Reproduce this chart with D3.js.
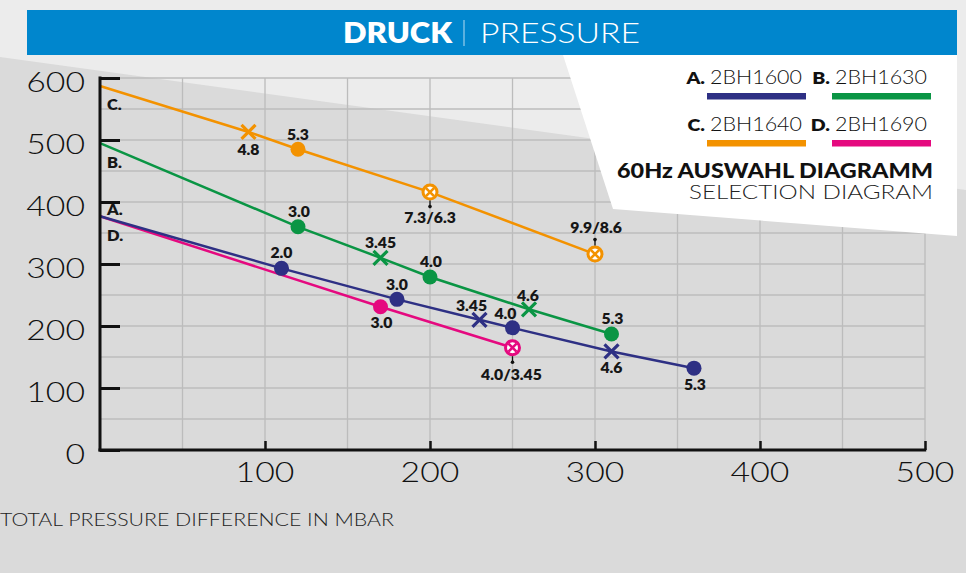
<!DOCTYPE html>
<html>
<head>
<meta charset="utf-8">
<script src="https://cdn.jsdelivr.net/npm/d3@7"></script>
<style>
  html,body{margin:0;padding:0;background:#dadada;}
  svg{display:block;}
</style>
</head>
<body>
<svg id="chart" width="966" height="573"></svg>
<script>
// ---------------- DATA ----------------
const seriesKeys   = ["A.", "B.", "C.", "D."];
const seriesModels = ["2BH1600", "2BH1630", "2BH1640", "2BH1690"];
const seriesColors = ["#2e3084", "#0a9544", "#f39200", "#e5097f"];

const xA = [0, 110, 180, 230, 250, 310, 360];
const yA = [377, 293, 243, 210, 197, 159, 132];
const markA  = ["", "dot", "dot", "x", "dot", "x", "dot"];
const labelA = ["", "2.0", "3.0", "3.45", "4.0", "4.6", "5.3"];

const xB = [0, 120, 170, 200, 260, 310];
const yB = [495, 360, 310, 279, 227, 187];
const markB  = ["", "dot", "x", "dot", "x", "dot"];
const labelB = ["", "3.0", "3.45", "4.0", "4.6", "5.3"];

const xC = [0, 90, 120, 200, 300];
const yC = [587, 513, 485, 416, 316];
const markC  = ["", "x", "dot", "ox", "ox"];
const labelC = ["", "4.8", "5.3", "7.3/6.3", "9.9/8.6"];

const xD = [0, 170, 250];
const yD = [377, 231, 165];
const markD  = ["", "dot", "ox"];
const labelD = ["", "3.0", "4.0/3.45"];

const xTicks = [0, 100, 200, 300, 400, 500];
const yTicks = [0, 100, 200, 300, 400, 500, 600];
const xTickLabels = ["", "100", "200", "300", "400", "500"];
const yTickLabels = ["0", "100", "200", "300", "400", "500", "600"];

const titleBold = "DRUCK";
const titleLight = "PRESSURE";
const subtitleBold = "60Hz AUSWAHL DIAGRAMM";
const subtitleLight = "SELECTION DIAGRAM";
const xAxisTitle = "TOTAL PRESSURE DIFFERENCE IN MBAR";

// ---------------- LAYOUT ----------------
const FONT = "Lato, 'Open Sans', 'DejaVu Sans', sans-serif";
const svg = d3.select("#chart");
const W = 966, H = 573;

const x = d3.scaleLinear().domain([0, 500]).range([100, 925]);
const y = d3.scaleLinear().domain([0, 600]).range([450, 78]);

// widen a text's glyphs (the original face is a wide geometric sans)
function widen(sel, factor, fixed) {
  sel.each(function () {
    const len = fixed || this.getComputedTextLength() * factor;
    d3.select(this).attr("textLength", len).attr("lengthAdjust", "spacingAndGlyphs");
  });
  return sel;
}

// backgrounds
svg.append("rect").attr("width", W).attr("height", H).attr("fill", "#dadada");
svg.append("polygon").attr("points", "0,0 966,0 966,190 0,57").attr("fill", "#ececec");

// grid
const grid = svg.append("g").attr("stroke", "#bcbcbc").attr("stroke-width", 1.3);
d3.range(50, 501, 50).forEach(v => {
  grid.append("line").attr("x1", x(v)).attr("x2", x(v)).attr("y1", y(0)).attr("y2", y(600));
});
d3.range(50, 601, 50).forEach(v => {
  grid.append("line").attr("x1", x(0)).attr("x2", x(500)).attr("y1", y(v)).attr("y2", y(v));
});

// white legend panel
svg.append("polygon").attr("points", "563,55 957,55 957,236 613,209").attr("fill", "#ffffff");

// blue title bar
svg.append("rect").attr("x", 27).attr("y", 10).attr("width", 930).attr("height", 45).attr("fill", "#0086cd");
widen(svg.append("text").attr("x", 343).attr("y", 43).attr("font-family", FONT).attr("font-weight", 800)
  .attr("font-size", 28).attr("fill", "#fff").text(titleBold), 1, 109);
svg.append("line").attr("x1", 464).attr("x2", 464).attr("y1", 20).attr("y2", 46)
  .attr("stroke", "#ffffff").attr("stroke-opacity", 0.6).attr("stroke-width", 1.2);
widen(svg.append("text").attr("x", 480).attr("y", 43).attr("font-family", FONT).attr("font-weight", 300)
  .attr("font-size", 28).attr("fill", "#fff").text(titleLight), 1, 160);

// legend
const legendPos = [[705, 84], [830, 84], [705, 131], [830, 131]];
seriesKeys.forEach((k, i) => {
  const [lx, ly] = legendPos[i];
  widen(svg.append("text").attr("x", lx).attr("y", ly).attr("text-anchor", "end")
    .attr("font-family", FONT).attr("font-weight", 800).attr("font-size", 17).attr("fill", "#111").text(k), 1.15);
  widen(svg.append("text").attr("x", lx + 5).attr("y", ly)
    .attr("font-family", FONT).attr("font-weight", 300).attr("font-size", 19).attr("fill", "#111")
    .text(seriesModels[i]), 1, 92);
  svg.append("rect").attr("x", lx + 2).attr("y", ly + 9).attr("width", 99).attr("height", 6.5).attr("fill", seriesColors[i]);
});
widen(svg.append("text").attr("x", 933).attr("y", 178).attr("text-anchor", "end")
  .attr("font-family", FONT).attr("font-weight", 900).attr("font-size", 20).attr("fill", "#111")
  .text(subtitleBold), 1, 316);
widen(svg.append("text").attr("x", 933).attr("y", 199).attr("text-anchor", "end")
  .attr("font-family", FONT).attr("font-weight", 300).attr("font-size", 19).attr("fill", "#222")
  .text(subtitleLight), 1, 244);

// series
const series = [
  {xs: xA, ys: yA, marks: markA, labels: labelA, color: seriesColors[0]},
  {xs: xB, ys: yB, marks: markB, labels: labelB, color: seriesColors[1]},
  {xs: xC, ys: yC, marks: markC, labels: labelC, color: seriesColors[2]},
  {xs: xD, ys: yD, marks: markD, labels: labelD, color: seriesColors[3]},
];
// label placement: [dx, dy(baseline)] per series/point; pointer flag
const place = {
  "0-1": [0, -10], "0-2": [0, -9], "0-3": [-8, -9], "0-4": [-7, -9], "0-5": [0, 22], "0-6": [1, 22],
  "1-1": [1, -10], "1-2": [0, -10], "1-3": [1, -10], "1-4": [-1, -8], "1-5": [1, -10],
  "2-1": [0, 23], "2-2": [0, -9], "2-3": [0, 31, "down"], "2-4": [1, -21, "up"],
  "3-1": [1, 21], "3-2": [-1, 32, "down"],
};
const lineGen = d3.line().x(d => x(d[0])).y(d => y(d[1]));
const drawOrder = [3, 0, 1, 2];
drawOrder.forEach(si => {
  const s = series[si];
  const pts = s.xs.map((v, i) => [v, s.ys[i]]);
  svg.append("path").datum(pts).attr("d", lineGen).attr("fill", "none")
    .attr("stroke", s.color).attr("stroke-width", 2.5);
});
drawOrder.forEach(si => {
  const s = series[si];
  const g = svg.append("g");
  s.xs.forEach((v, i) => {
    const px = x(v), py = y(s.ys[i]);
    const m = s.marks[i];
    if (m === "dot") {
      g.append("circle").attr("cx", px).attr("cy", py).attr("r", 7.5).attr("fill", s.color);
    } else if (m === "x") {
      const r = 7;
      g.append("path").attr("d", `M${px-r},${py-r}L${px+r},${py+r}M${px-r},${py+r}L${px+r},${py-r}`)
        .attr("stroke", s.color).attr("stroke-width", 3.2).attr("fill", "none");
    } else if (m === "ox") {
      g.append("circle").attr("cx", px).attr("cy", py).attr("r", 7).attr("fill", "#fff")
        .attr("stroke", s.color).attr("stroke-width", 3);
      const r = 4;
      g.append("path").attr("d", `M${px-r},${py-r}L${px+r},${py+r}M${px-r},${py+r}L${px+r},${py-r}`)
        .attr("stroke", s.color).attr("stroke-width", 2.6).attr("fill", "none");
    }
    if (s.labels[i]) {
      const p = place[si + "-" + i] || [0, -10];
      if (p[2] === "down") {
        g.append("line").attr("x1", px).attr("x2", px).attr("y1", py + 8.5).attr("y2", py + 14.5)
          .attr("stroke", "#111").attr("stroke-width", 1.3);
        g.append("circle").attr("cx", px).attr("cy", py + 14.5).attr("r", 1.8).attr("fill", "#111");
      } else if (p[2] === "up") {
        g.append("line").attr("x1", px).attr("x2", px).attr("y1", py - 8.5).attr("y2", py - 14.5)
          .attr("stroke", "#111").attr("stroke-width", 1.3);
        g.append("circle").attr("cx", px).attr("cy", py - 14.5).attr("r", 1.8).attr("fill", "#111");
      }
      widen(g.append("text").attr("x", px + p[0]).attr("y", py + p[1]).attr("text-anchor", "middle")
        .attr("font-family", FONT).attr("font-weight", 800).attr("font-size", 15).attr("fill", "#161616")
        .text(s.labels[i]), 1.05);
    }
  });
});

// series letters on axis
const letterY = [215, 168, 110, 241];
seriesKeys.forEach((k, i) => {
  widen(svg.append("text").attr("x", 107).attr("y", letterY[i]).attr("font-family", FONT)
    .attr("font-weight", 800).attr("font-size", 15).attr("fill", "#161616").text(k), 1.1);
});

// axes
const yAxis = d3.axisRight(y).tickValues(yTicks).tickSize(20).tickFormat("");
const gy = svg.append("g").attr("transform", `translate(${x(0)},0)`).call(yAxis);
gy.select(".domain").remove();
gy.selectAll(".tick line").attr("stroke", "#111").attr("stroke-width", 3);
svg.append("line").attr("x1", x(0)).attr("x2", x(0)).attr("y1", y(600) - 1.5).attr("y2", y(0) + 1.5)
  .attr("stroke", "#111").attr("stroke-width", 3);

const xAxis = d3.axisTop(x).tickValues(xTicks.slice(1)).tickSize(9).tickFormat("");
const gx = svg.append("g").attr("transform", `translate(0,${y(0)})`).call(xAxis);
gx.select(".domain").remove();
gx.selectAll(".tick line").attr("stroke", "#111").attr("stroke-width", 2.5);
svg.append("line").attr("x1", x(0) - 1.5).attr("x2", x(500) + 1.2).attr("y1", y(0)).attr("y2", y(0))
  .attr("stroke", "#111").attr("stroke-width", 3);

// tick labels
yTicks.forEach((v, i) => {
  widen(svg.append("text").attr("x", 85).attr("y", y(v) + 13.5).attr("text-anchor", "end")
    .attr("font-family", FONT).attr("font-weight", 300).attr("font-size", 27).attr("fill", "#111")
    .text(yTickLabels[i]), 1.25);
});
xTicks.forEach((v, i) => {
  if (!xTickLabels[i]) return;
  widen(svg.append("text").attr("x", x(v)).attr("y", 482).attr("text-anchor", "middle")
    .attr("font-family", FONT).attr("font-weight", 300).attr("font-size", 27).attr("fill", "#111")
    .text(xTickLabels[i]), 1.25);
});
widen(svg.append("text").attr("x", 0).attr("y", 526).attr("font-family", FONT).attr("font-weight", 300)
  .attr("font-size", 17).attr("fill", "#222").text(xAxisTitle), 1, 394);
</script>
</body>
</html>
